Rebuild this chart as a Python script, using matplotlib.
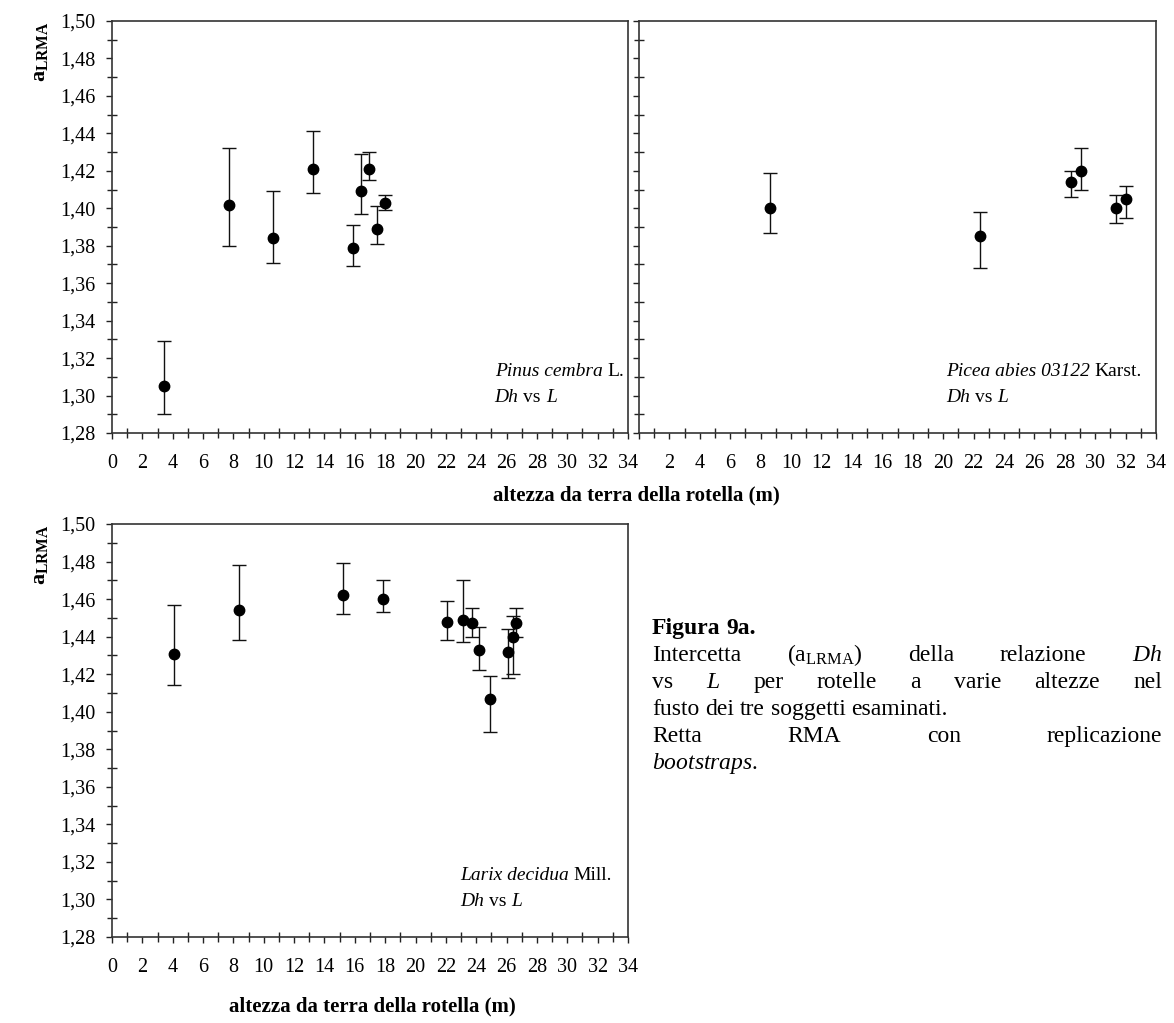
import matplotlib
matplotlib.use("Agg")
import matplotlib.pyplot as plt
from matplotlib.ticker import MultipleLocator, FuncFormatter

plt.rcParams['font.family'] = ['Liberation Serif', 'DejaVu Serif']
plt.rcParams['mathtext.fontset'] = 'custom'
plt.rcParams['mathtext.rm'] = 'Liberation Serif'
plt.rcParams['mathtext.it'] = 'Liberation Serif:italic'
plt.rcParams['mathtext.bf'] = 'Liberation Serif:bold'

# Intercept a_LRMA (with bootstrap interval) vs height of the disc above ground (m)
pinus_h = [3.45, 7.7, 10.6, 13.25, 15.9, 16.4, 16.95, 17.45, 18.0]
pinus_a = [1.305, 1.402, 1.384, 1.421, 1.379, 1.409, 1.421, 1.389, 1.403]
pinus_hi = [1.329, 1.432, 1.409, 1.441, 1.391, 1.429, 1.430, 1.401, 1.407]
pinus_lo = [1.290, 1.380, 1.371, 1.408, 1.369, 1.397, 1.415, 1.381, 1.399]

picea_h = [8.6, 22.4, 28.4, 29.1, 31.4, 32.0]
picea_a = [1.400, 1.385, 1.414, 1.420, 1.400, 1.405]
picea_hi = [1.419, 1.398, 1.420, 1.432, 1.407, 1.412]
picea_lo = [1.387, 1.368, 1.406, 1.410, 1.392, 1.395]

larix_h = [4.1, 8.35, 15.2, 17.85, 22.1, 23.1, 23.7, 24.2, 24.9, 26.1, 26.45, 26.6]
larix_a = [1.431, 1.454, 1.462, 1.460, 1.448, 1.449, 1.447, 1.433, 1.407, 1.432, 1.440, 1.447]
larix_hi = [1.457, 1.478, 1.479, 1.470, 1.459, 1.470, 1.455, 1.445, 1.419, 1.444, 1.451, 1.455]
larix_lo = [1.414, 1.438, 1.452, 1.453, 1.438, 1.437, 1.440, 1.422, 1.389, 1.418, 1.420, 1.440]

x_range = (0, 34)
y_range = (1.28, 1.50)
x_label = "altezza da terra della rotella (m)"
y_label = r'$\mathbf{a}_{\mathbf{LRMA}}$'

W, H = 1174, 1023
fig = plt.figure(figsize=(W / 100, H / 100), dpi=100)
fig.patch.set_facecolor('white')

TICK_SIZE = 14.5
NOTE_SIZE = 14
CAP_SIZE = 17


def box(x0, y0, x1, y1):
    # pixel box (top-left origin) -> figure fraction rect
    return [x0 / W, 1 - y1 / H, (x1 - x0) / W, (y1 - y0) / H]


ax_pinus = fig.add_axes(box(112, 21, 628, 433))
ax_picea = fig.add_axes(box(639, 21, 1156, 433))
ax_larix = fig.add_axes(box(112, 524, 628, 937))

comma = FuncFormatter(lambda v, p: f"{v:.2f}".replace('.', ','))


def style_axes(ax, show_y=True, hide_zero=False):
    ax.set_xlim(*x_range)
    ax.set_ylim(*y_range)
    ax.xaxis.set_major_locator(MultipleLocator(2))
    ax.xaxis.set_minor_locator(MultipleLocator(1))
    ax.yaxis.set_major_locator(MultipleLocator(0.02))
    ax.yaxis.set_minor_locator(MultipleLocator(0.01))
    if hide_zero:
        ax.xaxis.set_major_formatter(FuncFormatter(lambda v, p: "" if v == 0 else f"{v:.0f}"))
    else:
        ax.xaxis.set_major_formatter(FuncFormatter(lambda v, p: f"{v:.0f}"))
    if show_y:
        ax.yaxis.set_major_formatter(comma)
    else:
        ax.yaxis.set_major_formatter(FuncFormatter(lambda v, p: ""))
    ax.tick_params(which='major', direction='out', length=4, width=1.0,
                   labelsize=TICK_SIZE, colors='#222222', labelcolor='black')
    ax.tick_params(axis='x', which='major', pad=11)
    ax.tick_params(axis='y', which='major', pad=8)
    ax.tick_params(which='minor', direction='inout', length=7, width=1.0, colors='#222222')
    ax.tick_params(top=False, right=False, which='both')
    for s in ax.spines.values():
        s.set_linewidth(1.2)
        s.set_color('#333333')


def plot_series(ax, h, a, lo, hi):
    yerr = [[v - l for v, l in zip(a, lo)], [u - v for v, u in zip(a, hi)]]
    ax.errorbar(h, a, yerr=yerr, fmt='o', color='black', ecolor='#111111',
                markersize=7.5, elinewidth=1.0, capsize=5, capthick=1.0)


style_axes(ax_pinus)
style_axes(ax_picea, show_y=False, hide_zero=True)
style_axes(ax_larix)

plot_series(ax_pinus, pinus_h, pinus_a, pinus_lo, pinus_hi)
plot_series(ax_picea, picea_h, picea_a, picea_lo, picea_hi)
plot_series(ax_larix, larix_h, larix_a, larix_lo, larix_hi)

# axis titles
fig.text(636 / W, 1 - 495 / H, x_label, fontsize=15, fontweight='bold', ha='center', va='center')
fig.text(372 / W, 1 - 1006 / H, x_label, fontsize=15, fontweight='bold', ha='center', va='center')
fig.text(41 / W, 1 - 21 / H, y_label, fontsize=16, rotation=90, ha='center', va='top')
fig.text(41 / W, 1 - 524 / H, y_label, fontsize=16, rotation=90, ha='center', va='top')

fig.canvas.draw()
renderer = fig.canvas.get_renderer()


def width_px(t):
    return t.get_window_extent(renderer).width


def run_of_text(x_px, y_px, parts, size, align='left'):
    """Draw a line made of (string, style, space_before) pieces starting at pixel x."""
    sp = size * 0.25 * 100 / 72
    ts, ws = [], []
    for s, style, gap in parts:
        t = fig.text(0, 1 - y_px / H, s, fontsize=size, ha='left', va='baseline',
                     fontstyle='italic' if style == 'i' else 'normal',
                     fontweight='bold' if style == 'b' else 'normal')
        ts.append(t)
        ws.append(width_px(t))
    total = sum(ws) + sp * sum(1 for p in parts[1:] if p[2])
    x = x_px - total if align == 'right' else x_px
    for i, (t, w) in enumerate(zip(ts, ws)):
        if i > 0 and parts[i][2]:
            x += sp
        t.set_x(x / W)
        x += w
    return x_px - total if align == 'right' else x_px


# species labels inside each panel (right end of the first line near the frame)
dh_vs_l = [("Dh", 'i', False), ("vs", 'n', True), ("L", 'i', True)]
for right, y0, name in [(624, 376, [("Pinus cembra", 'i', False), ("L.", 'n', True)]),
                        (1142, 376, [("Picea abies 03122", 'i', False), ("Karst.", 'n', True)]),
                        (612, 880, [("Larix decidua", 'i', False), ("Mill.", 'n', True)])]:
    left = run_of_text(right, y0, name, NOTE_SIZE, align='right')
    run_of_text(left, y0 + 26, dh_vs_l, NOTE_SIZE)

# caption, justified to a fixed column
cap_x0, cap_x1 = 652, 1162
space = CAP_SIZE * 0.25 * 100 / 72


def caption_line(words, y_px, justify=True, bold=False):
    yb = 1 - y_px / H
    ts = [fig.text(0, yb, w, fontsize=CAP_SIZE, ha='left', va='baseline',
                   fontweight='bold' if bold else 'normal') for w in words]
    widths = [width_px(t) for t in ts]
    gap = space
    if justify and len(ts) > 1:
        gap = (cap_x1 - cap_x0 - sum(widths)) / (len(ts) - 1)
    x = cap_x0
    for t, w in zip(ts, widths):
        t.set_x(x / W)
        x += w + gap


line_step = 27
base = 634
caption_line(["Figura", "9a."], base, justify=False, bold=True)
caption_line(["Intercetta", r"(a$_{\mathrm{LRMA}}$)", "della", "relazione", r"$\mathit{Dh}$"], base + line_step)
caption_line(["vs", r"$\mathit{L}$", "per", "rotelle", "a", "varie", "altezze", "nel"], base + 2 * line_step)
caption_line(["fusto", "dei", "tre", "soggetti", "esaminati."], base + 3 * line_step, justify=False)
caption_line(["Retta", "RMA", "con", "replicazione"], base + 4 * line_step)
caption_line([r"$\mathit{bootstraps}$."], base + 5 * line_step, justify=False)

fig.savefig("out.png", dpi=100, facecolor='white')
